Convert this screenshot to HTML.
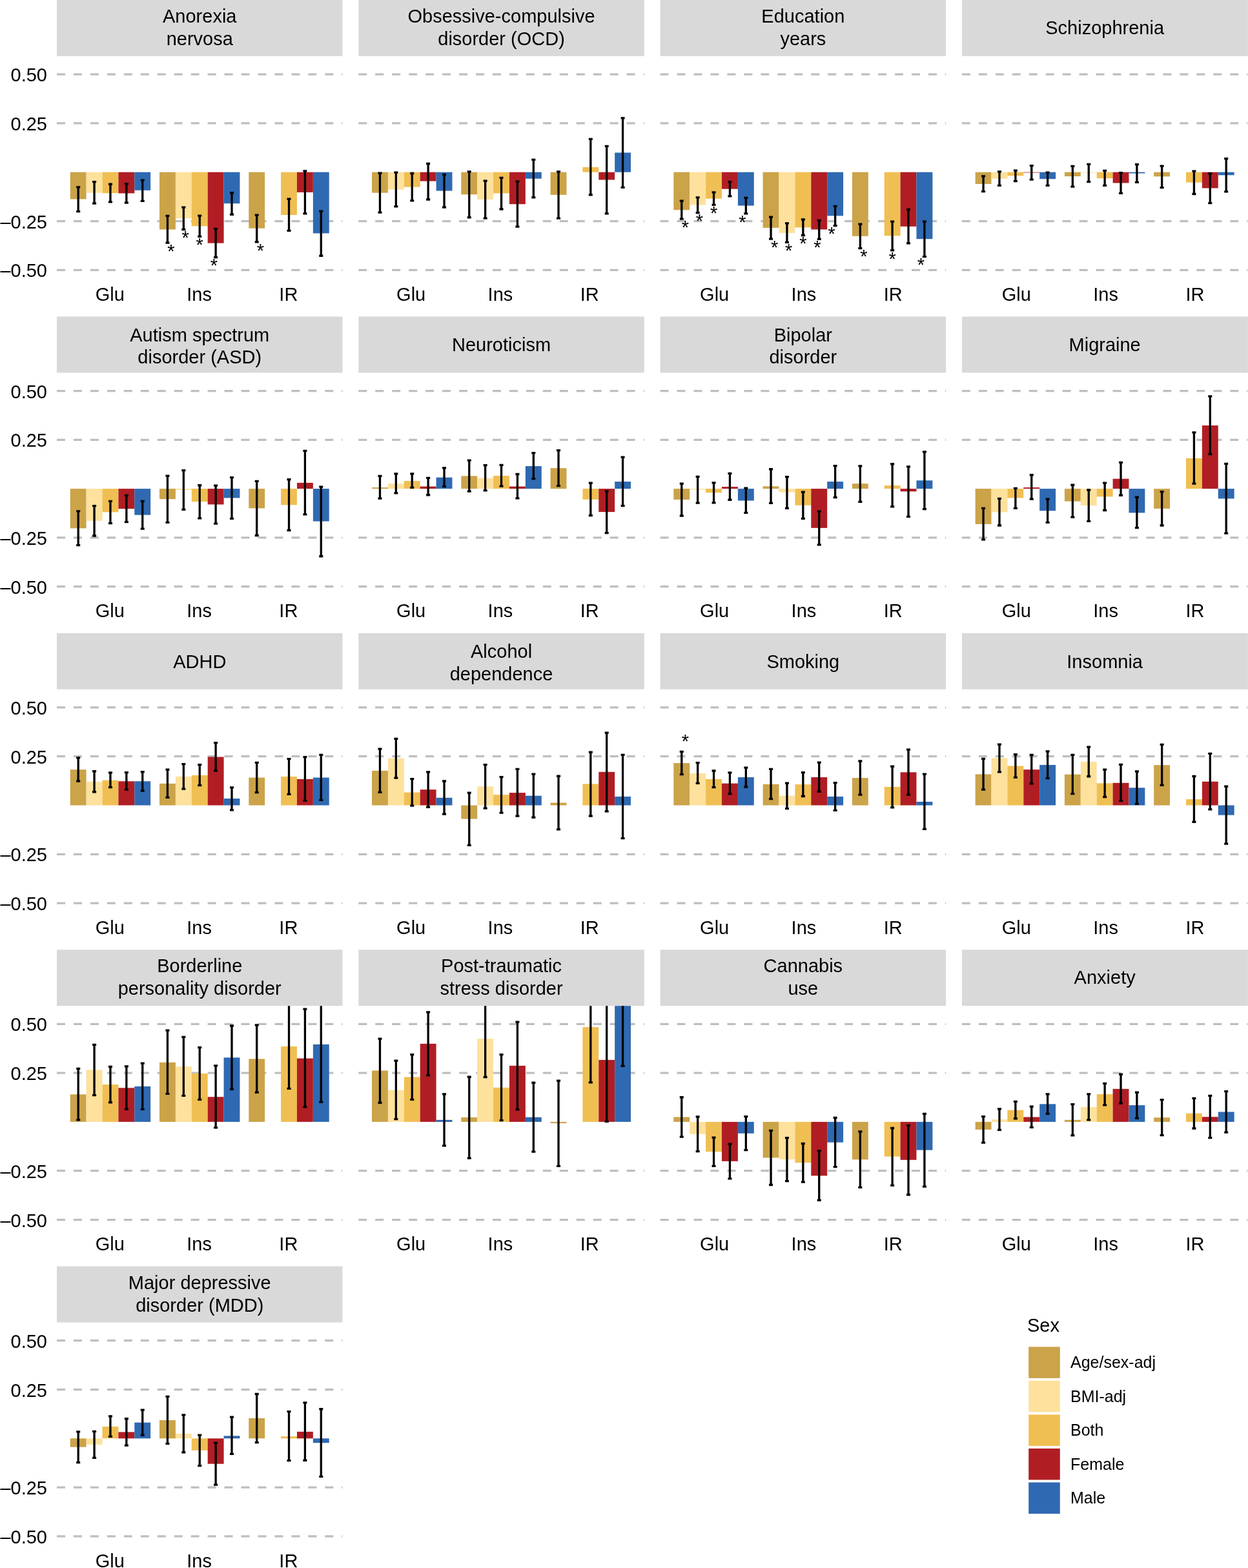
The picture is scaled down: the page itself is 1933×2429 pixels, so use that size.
<!DOCTYPE html>
<html><head><meta charset="utf-8"><title>Figure</title>
<style>html,body{margin:0;padding:0;background:#fff;}svg{display:block;}</style>
</head><body>
<svg width="1933" height="2429" viewBox="0 0 1933 2429" font-family="'Liberation Sans', Arial, Helvetica, sans-serif">
<rect width="1933" height="2429" fill="#fff"/>
<defs><clipPath id="c0"><rect x="88" y="87" width="442.5" height="360"/></clipPath><clipPath id="c1"><rect x="555.3" y="87" width="442.5" height="360"/></clipPath><clipPath id="c2"><rect x="1022.6" y="87" width="442.5" height="360"/></clipPath><clipPath id="c3"><rect x="1489.9" y="87" width="442.5" height="360"/></clipPath><clipPath id="c4"><rect x="88" y="577.4" width="442.5" height="360"/></clipPath><clipPath id="c5"><rect x="555.3" y="577.4" width="442.5" height="360"/></clipPath><clipPath id="c6"><rect x="1022.6" y="577.4" width="442.5" height="360"/></clipPath><clipPath id="c7"><rect x="1489.9" y="577.4" width="442.5" height="360"/></clipPath><clipPath id="c8"><rect x="88" y="1067.8" width="442.5" height="360"/></clipPath><clipPath id="c9"><rect x="555.3" y="1067.8" width="442.5" height="360"/></clipPath><clipPath id="c10"><rect x="1022.6" y="1067.8" width="442.5" height="360"/></clipPath><clipPath id="c11"><rect x="1489.9" y="1067.8" width="442.5" height="360"/></clipPath><clipPath id="c12"><rect x="88" y="1558.2" width="442.5" height="360"/></clipPath><clipPath id="c13"><rect x="555.3" y="1558.2" width="442.5" height="360"/></clipPath><clipPath id="c14"><rect x="1022.6" y="1558.2" width="442.5" height="360"/></clipPath><clipPath id="c15"><rect x="1489.9" y="1558.2" width="442.5" height="360"/></clipPath><clipPath id="c16"><rect x="88" y="2048.6" width="442.5" height="360"/></clipPath></defs>
<rect x="88" y="0" width="442.5" height="87" fill="#D9D9D9"/>
<text x="309.25" y="35.1" font-size="29" text-anchor="middle" fill="#000">Anorexia</text>
<text x="309.25" y="70" font-size="29" text-anchor="middle" fill="#000">nervosa</text>
<line x1="88" x2="530.5" y1="115.1" y2="115.1" stroke="#BEBEBE" stroke-width="3.25" stroke-dasharray="12.98 12.98"/>
<text transform="translate(73 126.1) scale(1 1.02)" font-size="29" text-anchor="end" fill="#000">0.50</text>
<line x1="88" x2="530.5" y1="190.9" y2="190.9" stroke="#BEBEBE" stroke-width="3.25" stroke-dasharray="12.98 12.98"/>
<text transform="translate(73 201.9) scale(1 1.02)" font-size="29" text-anchor="end" fill="#000">0.25</text>
<line x1="88" x2="530.5" y1="342.5" y2="342.5" stroke="#BEBEBE" stroke-width="3.25" stroke-dasharray="12.98 12.98"/>
<text transform="translate(73 353.5) scale(1 1.02)" font-size="29" text-anchor="end" fill="#000">–0.25</text>
<line x1="88" x2="530.5" y1="418.3" y2="418.3" stroke="#BEBEBE" stroke-width="3.25" stroke-dasharray="12.98 12.98"/>
<text transform="translate(73 429.3) scale(1 1.02)" font-size="29" text-anchor="end" fill="#000">–0.50</text>
<text x="170.27" y="466" font-size="29" text-anchor="middle" fill="#000">Glu</text>
<text x="308.55" y="466" font-size="29" text-anchor="middle" fill="#000">Ins</text>
<text x="446.83" y="466" font-size="29" text-anchor="middle" fill="#000">IR</text>
<g clip-path="url(#c0)">
<rect x="108.74" y="266.7" width="24.89" height="41.8" fill="#CBA349"/>
<rect x="133.63" y="266.7" width="24.89" height="31.99" fill="#FDE19C"/>
<rect x="158.52" y="266.7" width="24.89" height="32.51" fill="#F0BF53"/>
<rect x="183.41" y="266.7" width="24.89" height="32.76" fill="#B01E24"/>
<rect x="208.3" y="266.7" width="24.89" height="28.12" fill="#2F69B1"/>
<rect x="247.02" y="266.7" width="24.89" height="88.78" fill="#CBA349"/>
<rect x="271.91" y="266.7" width="24.89" height="71.49" fill="#FDE19C"/>
<rect x="296.8" y="266.7" width="24.89" height="83.62" fill="#F0BF53"/>
<rect x="321.7" y="266.7" width="24.89" height="109.95" fill="#B01E24"/>
<rect x="346.59" y="266.7" width="24.89" height="48.51" fill="#2F69B1"/>
<rect x="385.3" y="266.7" width="24.89" height="86.98" fill="#CBA349"/>
<rect x="435.09" y="266.7" width="24.89" height="66.33" fill="#F0BF53"/>
<rect x="459.98" y="266.7" width="24.89" height="31.22" fill="#B01E24"/>
<rect x="484.87" y="266.7" width="24.89" height="94.72" fill="#2F69B1"/>
<path d="M121.19 289.91V327.6M118.19 289.91H124.19M118.19 327.6H124.19M146.08 281.65V315.21M143.08 281.65H149.08M143.08 315.21H149.08M170.97 285.27V312.89M167.97 285.27H173.97M167.97 312.89H173.97M195.86 284.75V314.18M192.86 284.75H198.86M192.86 314.18H198.86M220.75 279.07V311.34M217.75 279.07H223.75M217.75 311.34H223.75M259.47 334.32V376.14M256.47 334.32H262.47M256.47 376.14H262.47M284.36 321.15V355.48M281.36 321.15H287.36M281.36 355.48H287.36M309.25 334.06V366.33M306.25 334.06H312.25M306.25 366.33H312.25M334.14 354.45V398.6M331.14 354.45H337.14M331.14 398.6H337.14M359.03 298.69V332.25M356.03 298.69H362.03M356.03 332.25H362.03M397.75 333.03V374.85M394.75 333.03H400.75M394.75 374.85H400.75M447.53 308.24V357.29M444.53 308.24H450.53M444.53 357.29H450.53M472.42 264.87V330.96M469.42 264.87H475.42M469.42 330.96H475.42M497.31 327.09V396.27M494.31 327.09H500.31M494.31 396.27H500.31" stroke="#000" stroke-width="3.3" fill="none"/>
</g>
<text x="265" y="398.94" font-size="29" text-anchor="middle">*</text>
<text x="287.12" y="378.28" font-size="29" text-anchor="middle">*</text>
<text x="309.25" y="389.13" font-size="29" text-anchor="middle">*</text>
<text x="331.38" y="421.4" font-size="29" text-anchor="middle">*</text>
<text x="403.28" y="397.65" font-size="29" text-anchor="middle">*</text>
<rect x="555.3" y="0" width="442.5" height="87" fill="#D9D9D9"/>
<text x="776.55" y="35.1" font-size="29" text-anchor="middle" fill="#000">Obsessive-compulsive</text>
<text x="776.55" y="70" font-size="29" text-anchor="middle" fill="#000">disorder (OCD)</text>
<line x1="555.3" x2="997.8" y1="115.1" y2="115.1" stroke="#BEBEBE" stroke-width="3.25" stroke-dasharray="12.98 12.98"/>
<line x1="555.3" x2="997.8" y1="190.9" y2="190.9" stroke="#BEBEBE" stroke-width="3.25" stroke-dasharray="12.98 12.98"/>
<line x1="555.3" x2="997.8" y1="342.5" y2="342.5" stroke="#BEBEBE" stroke-width="3.25" stroke-dasharray="12.98 12.98"/>
<line x1="555.3" x2="997.8" y1="418.3" y2="418.3" stroke="#BEBEBE" stroke-width="3.25" stroke-dasharray="12.98 12.98"/>
<text x="636.67" y="466" font-size="29" text-anchor="middle" fill="#000">Glu</text>
<text x="774.95" y="466" font-size="29" text-anchor="middle" fill="#000">Ins</text>
<text x="913.23" y="466" font-size="29" text-anchor="middle" fill="#000">IR</text>
<g clip-path="url(#c1)">
<rect x="576.04" y="266.7" width="24.89" height="31.99" fill="#CBA349"/>
<rect x="600.93" y="266.7" width="24.89" height="26.83" fill="#FDE19C"/>
<rect x="625.82" y="266.7" width="24.89" height="22.95" fill="#F0BF53"/>
<rect x="650.71" y="266.7" width="24.89" height="13.92" fill="#B01E24"/>
<rect x="675.6" y="266.7" width="24.89" height="28.89" fill="#2F69B1"/>
<rect x="714.32" y="266.7" width="24.89" height="34.57" fill="#CBA349"/>
<rect x="739.21" y="266.7" width="24.89" height="42.32" fill="#FDE19C"/>
<rect x="764.1" y="266.7" width="24.89" height="32.76" fill="#F0BF53"/>
<rect x="789" y="266.7" width="24.89" height="49.54" fill="#B01E24"/>
<rect x="813.89" y="266.7" width="24.89" height="10.05" fill="#2F69B1"/>
<rect x="852.6" y="266.7" width="24.89" height="35.09" fill="#CBA349"/>
<rect x="902.39" y="258.93" width="24.89" height="7.77" fill="#F0BF53"/>
<rect x="927.28" y="266.7" width="24.89" height="11.85" fill="#B01E24"/>
<rect x="952.17" y="236.47" width="24.89" height="30.23" fill="#2F69B1"/>
<path d="M588.49 268.23V329.15M585.49 268.23H591.49M585.49 329.15H591.49M613.38 267.19V319.86M610.38 267.19H616.38M610.38 319.86H616.38M638.27 268.49V310.82M635.27 268.49H641.27M635.27 310.82H641.27M663.16 253.51V309.02M660.16 253.51H666.16M660.16 309.02H666.16M688.05 270.29V321.15M685.05 270.29H691.05M685.05 321.15H691.05M726.77 265.9V336.9M723.77 265.9H729.77M723.77 336.9H729.77M751.66 280.1V338.19M748.66 280.1H754.66M748.66 338.19H754.66M776.55 275.46V323.99M773.55 275.46H779.55M773.55 323.99H779.55M801.44 281.14V351.1M798.44 281.14H804.44M798.44 351.1H804.44M826.33 247.32V305.92M823.33 247.32H829.33M823.33 305.92H829.33M865.05 265.9V338.19M862.05 265.9H868.05M862.05 338.19H868.05M914.83 215.3V301.79M911.83 215.3H917.83M911.83 301.79H917.83M939.72 226.41V330.96M936.72 226.41H942.72M936.72 330.96H942.72M964.61 182.78V290.43M961.61 182.78H967.61M961.61 290.43H967.61" stroke="#000" stroke-width="3.3" fill="none"/>
</g>
<rect x="1022.6" y="0" width="442.5" height="87" fill="#D9D9D9"/>
<text x="1243.85" y="35.1" font-size="29" text-anchor="middle" fill="#000">Education</text>
<text x="1243.85" y="70" font-size="29" text-anchor="middle" fill="#000">years</text>
<line x1="1022.6" x2="1465.1" y1="115.1" y2="115.1" stroke="#BEBEBE" stroke-width="3.25" stroke-dasharray="12.98 12.98"/>
<line x1="1022.6" x2="1465.1" y1="190.9" y2="190.9" stroke="#BEBEBE" stroke-width="3.25" stroke-dasharray="12.98 12.98"/>
<line x1="1022.6" x2="1465.1" y1="342.5" y2="342.5" stroke="#BEBEBE" stroke-width="3.25" stroke-dasharray="12.98 12.98"/>
<line x1="1022.6" x2="1465.1" y1="418.3" y2="418.3" stroke="#BEBEBE" stroke-width="3.25" stroke-dasharray="12.98 12.98"/>
<text x="1106.67" y="466" font-size="29" text-anchor="middle" fill="#000">Glu</text>
<text x="1244.95" y="466" font-size="29" text-anchor="middle" fill="#000">Ins</text>
<text x="1383.23" y="466" font-size="29" text-anchor="middle" fill="#000">IR</text>
<g clip-path="url(#c2)">
<rect x="1043.34" y="266.7" width="24.89" height="58.58" fill="#CBA349"/>
<rect x="1068.23" y="266.7" width="24.89" height="50.84" fill="#FDE19C"/>
<rect x="1093.12" y="266.7" width="24.89" height="41.03" fill="#F0BF53"/>
<rect x="1118.01" y="266.7" width="24.89" height="26.05" fill="#B01E24"/>
<rect x="1142.9" y="266.7" width="24.89" height="51.87" fill="#2F69B1"/>
<rect x="1181.62" y="266.7" width="24.89" height="86.2" fill="#CBA349"/>
<rect x="1206.51" y="266.7" width="24.89" height="94.21" fill="#FDE19C"/>
<rect x="1231.4" y="266.7" width="24.89" height="85.69" fill="#F0BF53"/>
<rect x="1256.3" y="266.7" width="24.89" height="88.78" fill="#B01E24"/>
<rect x="1281.19" y="266.7" width="24.89" height="67.62" fill="#2F69B1"/>
<rect x="1319.9" y="266.7" width="24.89" height="99.11" fill="#CBA349"/>
<rect x="1369.69" y="266.7" width="24.89" height="98.59" fill="#F0BF53"/>
<rect x="1394.58" y="266.7" width="24.89" height="84.14" fill="#B01E24"/>
<rect x="1419.47" y="266.7" width="24.89" height="103.5" fill="#2F69B1"/>
<path d="M1055.79 311.08V339.22M1052.79 311.08H1058.79M1052.79 339.22H1058.79M1080.68 305.92V329.67M1077.68 305.92H1083.68M1077.68 329.67H1083.68M1105.57 297.92V317.28M1102.57 297.92H1108.57M1102.57 317.28H1108.57M1130.46 281.65V303.85M1127.46 281.65H1133.46M1127.46 303.85H1133.46M1155.35 306.43V330.96M1152.35 306.43H1158.35M1152.35 330.96H1158.35M1194.07 336.12V370.2M1191.07 336.12H1197.07M1191.07 370.2H1197.07M1218.96 345.93V375.36M1215.96 345.93H1221.96M1215.96 375.36H1221.96M1243.85 340V364.52M1240.85 340H1246.85M1240.85 364.52H1246.85M1268.74 341.29V370.46M1265.74 341.29H1271.74M1265.74 370.46H1271.74M1293.63 319.34V349.55M1290.63 319.34H1296.63M1290.63 349.55H1296.63M1332.35 347.22V384.66M1329.35 347.22H1335.35M1329.35 384.66H1335.35M1382.13 343.09V387.75M1379.13 343.09H1385.13M1379.13 387.75H1385.13M1407.02 324.51V376.91M1404.02 324.51H1410.02M1404.02 376.91H1410.02M1431.91 343.09V397.56M1428.91 343.09H1434.91M1428.91 397.56H1434.91" stroke="#000" stroke-width="3.3" fill="none"/>
</g>
<text x="1061.32" y="362.02" font-size="29" text-anchor="middle">*</text>
<text x="1083.44" y="352.47" font-size="29" text-anchor="middle">*</text>
<text x="1105.57" y="340.08" font-size="29" text-anchor="middle">*</text>
<text x="1149.82" y="353.76" font-size="29" text-anchor="middle">*</text>
<text x="1199.6" y="393" font-size="29" text-anchor="middle">*</text>
<text x="1221.72" y="398.16" font-size="29" text-anchor="middle">*</text>
<text x="1243.85" y="387.32" font-size="29" text-anchor="middle">*</text>
<text x="1265.97" y="393.26" font-size="29" text-anchor="middle">*</text>
<text x="1288.1" y="372.35" font-size="29" text-anchor="middle">*</text>
<text x="1337.88" y="407.46" font-size="29" text-anchor="middle">*</text>
<text x="1382.13" y="410.55" font-size="29" text-anchor="middle">*</text>
<text x="1426.38" y="420.36" font-size="29" text-anchor="middle">*</text>
<rect x="1489.9" y="0" width="442.9" height="87" fill="#D9D9D9"/>
<text x="1711.15" y="52.8" font-size="29" text-anchor="middle" fill="#000">Schizophrenia</text>
<line x1="1489.9" x2="1932.4" y1="115.1" y2="115.1" stroke="#BEBEBE" stroke-width="3.25" stroke-dasharray="12.98 12.98"/>
<line x1="1489.9" x2="1932.4" y1="190.9" y2="190.9" stroke="#BEBEBE" stroke-width="3.25" stroke-dasharray="12.98 12.98"/>
<line x1="1489.9" x2="1932.4" y1="342.5" y2="342.5" stroke="#BEBEBE" stroke-width="3.25" stroke-dasharray="12.98 12.98"/>
<line x1="1489.9" x2="1932.4" y1="418.3" y2="418.3" stroke="#BEBEBE" stroke-width="3.25" stroke-dasharray="12.98 12.98"/>
<text x="1574.37" y="466" font-size="29" text-anchor="middle" fill="#000">Glu</text>
<text x="1712.65" y="466" font-size="29" text-anchor="middle" fill="#000">Ins</text>
<text x="1850.93" y="466" font-size="29" text-anchor="middle" fill="#000">IR</text>
<g clip-path="url(#c3)">
<rect x="1510.64" y="266.7" width="24.89" height="18.31" fill="#CBA349"/>
<rect x="1535.53" y="266.7" width="24.89" height="10.05" fill="#FDE19C"/>
<rect x="1560.42" y="266.7" width="24.89" height="5.66" fill="#F0BF53"/>
<rect x="1585.31" y="266.7" width="24.89" height="0.75" fill="#B01E24"/>
<rect x="1610.2" y="266.7" width="24.89" height="10.56" fill="#2F69B1"/>
<rect x="1648.92" y="266.7" width="24.89" height="6.43" fill="#CBA349"/>
<rect x="1673.81" y="266.7" width="24.89" height="1.01" fill="#FDE19C"/>
<rect x="1698.7" y="266.7" width="24.89" height="9.53" fill="#F0BF53"/>
<rect x="1723.6" y="266.7" width="24.89" height="16.76" fill="#B01E24"/>
<rect x="1748.49" y="266.7" width="24.89" height="1.79" fill="#2F69B1"/>
<rect x="1787.2" y="266.7" width="24.89" height="6.69" fill="#CBA349"/>
<rect x="1836.99" y="266.7" width="24.89" height="15.98" fill="#F0BF53"/>
<rect x="1861.88" y="266.7" width="24.89" height="24.76" fill="#B01E24"/>
<rect x="1886.77" y="266.7" width="24.89" height="4.63" fill="#2F69B1"/>
<path d="M1523.09 272.87V296.62M1520.09 272.87H1526.09M1520.09 296.62H1526.09M1547.98 265.9V287.33M1544.98 265.9H1550.98M1544.98 287.33H1550.98M1572.87 264.1V280.62M1569.87 264.1H1575.87M1569.87 280.62H1575.87M1597.76 256.61V278.04M1594.76 256.61H1600.76M1594.76 278.04H1600.76M1622.65 267.19V287.33M1619.65 267.19H1625.65M1619.65 287.33H1625.65M1661.37 257.38V289.14M1658.37 257.38H1664.37M1658.37 289.14H1664.37M1686.26 254.29V281.65M1683.26 254.29H1689.26M1683.26 281.65H1689.26M1711.15 264.35V287.33M1708.15 264.35H1714.15M1708.15 287.33H1714.15M1736.04 267.71V299.46M1733.04 267.71H1739.04M1733.04 299.46H1739.04M1760.93 254.54V282.43M1757.93 254.54H1763.93M1757.93 282.43H1763.93M1799.65 257.13V290.69M1796.65 257.13H1802.65M1796.65 290.69H1802.65M1849.43 265.13V300.5M1846.43 265.13H1852.43M1846.43 300.5H1852.43M1874.32 268.74V314.7M1871.32 268.74H1877.32M1871.32 314.7H1877.32M1899.21 245.77V296.88M1896.21 245.77H1902.21M1896.21 296.88H1902.21" stroke="#000" stroke-width="3.3" fill="none"/>
</g>
<rect x="88" y="490.4" width="442.5" height="87" fill="#D9D9D9"/>
<text x="309.25" y="528.6" font-size="29" text-anchor="middle" fill="#000">Autism spectrum</text>
<text x="309.25" y="563.2" font-size="29" text-anchor="middle" fill="#000">disorder (ASD)</text>
<line x1="88" x2="530.5" y1="605.5" y2="605.5" stroke="#BEBEBE" stroke-width="3.25" stroke-dasharray="12.98 12.98"/>
<text transform="translate(73 616.5) scale(1 1.02)" font-size="29" text-anchor="end" fill="#000">0.50</text>
<line x1="88" x2="530.5" y1="681.3" y2="681.3" stroke="#BEBEBE" stroke-width="3.25" stroke-dasharray="12.98 12.98"/>
<text transform="translate(73 692.3) scale(1 1.02)" font-size="29" text-anchor="end" fill="#000">0.25</text>
<line x1="88" x2="530.5" y1="832.9" y2="832.9" stroke="#BEBEBE" stroke-width="3.25" stroke-dasharray="12.98 12.98"/>
<text transform="translate(73 843.9) scale(1 1.02)" font-size="29" text-anchor="end" fill="#000">–0.25</text>
<line x1="88" x2="530.5" y1="908.7" y2="908.7" stroke="#BEBEBE" stroke-width="3.25" stroke-dasharray="12.98 12.98"/>
<text transform="translate(73 919.7) scale(1 1.02)" font-size="29" text-anchor="end" fill="#000">–0.50</text>
<text x="170.27" y="956.4" font-size="29" text-anchor="middle" fill="#000">Glu</text>
<text x="308.55" y="956.4" font-size="29" text-anchor="middle" fill="#000">Ins</text>
<text x="446.83" y="956.4" font-size="29" text-anchor="middle" fill="#000">IR</text>
<g clip-path="url(#c4)">
<rect x="108.74" y="757.1" width="24.89" height="61.28" fill="#CBA349"/>
<rect x="133.63" y="757.1" width="24.89" height="49.66" fill="#FDE19C"/>
<rect x="158.52" y="757.1" width="24.89" height="36.24" fill="#F0BF53"/>
<rect x="183.41" y="757.1" width="24.89" height="31.07" fill="#B01E24"/>
<rect x="208.3" y="757.1" width="24.89" height="40.63" fill="#2F69B1"/>
<rect x="247.02" y="757.1" width="24.89" height="16.1" fill="#CBA349"/>
<rect x="271.91" y="757.1" width="24.89" height="1.9" fill="#FDE19C"/>
<rect x="296.8" y="757.1" width="24.89" height="19.97" fill="#F0BF53"/>
<rect x="321.7" y="757.1" width="24.89" height="24.36" fill="#B01E24"/>
<rect x="346.59" y="757.1" width="24.89" height="14.29" fill="#2F69B1"/>
<rect x="385.3" y="757.1" width="24.89" height="30.3" fill="#CBA349"/>
<rect x="435.09" y="757.1" width="24.89" height="25.14" fill="#F0BF53"/>
<rect x="459.98" y="747.9" width="24.89" height="9.2" fill="#B01E24"/>
<rect x="484.87" y="757.1" width="24.89" height="50.44" fill="#2F69B1"/>
<path d="M121.19 791.79V844.71M118.19 791.79H124.19M118.19 844.71H124.19M146.08 783.53V830M143.08 783.53H149.08M143.08 830H149.08M170.97 776.3V810.63M167.97 776.3H173.97M167.97 810.63H173.97M195.86 767.52V808.57M192.86 767.52H198.86M192.86 808.57H198.86M220.75 776.3V819.15M217.75 776.3H223.75M217.75 819.15H223.75M259.47 737.06V809.34M256.47 737.06H262.47M256.47 809.34H262.47M284.36 728.54V789.46M281.36 728.54H287.36M281.36 789.46H287.36M309.25 751.77V802.89M306.25 751.77H312.25M306.25 802.89H312.25M334.14 752.03V811.15M331.14 752.03H337.14M331.14 811.15H337.14M359.03 739.64V803.41M356.03 739.64H362.03M356.03 803.41H362.03M397.75 745.32V829.48M394.75 745.32H400.75M394.75 829.48H400.75M447.53 742.74V821.48M444.53 742.74H450.53M444.53 821.48H450.53M472.42 698.33V796.95M469.42 698.33H475.42M469.42 796.95H475.42M497.31 754.1V861.75M494.31 754.1H500.31M494.31 861.75H500.31" stroke="#000" stroke-width="3.3" fill="none"/>
</g>
<rect x="555.3" y="490.4" width="442.5" height="87" fill="#D9D9D9"/>
<text x="776.55" y="544.4" font-size="29" text-anchor="middle" fill="#000">Neuroticism</text>
<line x1="555.3" x2="997.8" y1="605.5" y2="605.5" stroke="#BEBEBE" stroke-width="3.25" stroke-dasharray="12.98 12.98"/>
<line x1="555.3" x2="997.8" y1="681.3" y2="681.3" stroke="#BEBEBE" stroke-width="3.25" stroke-dasharray="12.98 12.98"/>
<line x1="555.3" x2="997.8" y1="832.9" y2="832.9" stroke="#BEBEBE" stroke-width="3.25" stroke-dasharray="12.98 12.98"/>
<line x1="555.3" x2="997.8" y1="908.7" y2="908.7" stroke="#BEBEBE" stroke-width="3.25" stroke-dasharray="12.98 12.98"/>
<text x="636.67" y="956.4" font-size="29" text-anchor="middle" fill="#000">Glu</text>
<text x="774.95" y="956.4" font-size="29" text-anchor="middle" fill="#000">Ins</text>
<text x="913.23" y="956.4" font-size="29" text-anchor="middle" fill="#000">IR</text>
<g clip-path="url(#c5)">
<rect x="576.04" y="755.13" width="24.89" height="1.97" fill="#CBA349"/>
<rect x="600.93" y="749.19" width="24.89" height="7.91" fill="#FDE19C"/>
<rect x="625.82" y="745.06" width="24.89" height="12.04" fill="#F0BF53"/>
<rect x="650.71" y="753.58" width="24.89" height="3.52" fill="#B01E24"/>
<rect x="675.6" y="739.64" width="24.89" height="17.46" fill="#2F69B1"/>
<rect x="714.32" y="737.32" width="24.89" height="19.78" fill="#CBA349"/>
<rect x="739.21" y="740.67" width="24.89" height="16.43" fill="#FDE19C"/>
<rect x="764.1" y="737.06" width="24.89" height="20.04" fill="#F0BF53"/>
<rect x="789" y="753.58" width="24.89" height="3.52" fill="#B01E24"/>
<rect x="813.89" y="722.09" width="24.89" height="35.01" fill="#2F69B1"/>
<rect x="852.6" y="725.18" width="24.89" height="31.92" fill="#CBA349"/>
<rect x="902.39" y="757.1" width="24.89" height="16.62" fill="#F0BF53"/>
<rect x="927.28" y="757.1" width="24.89" height="35.98" fill="#B01E24"/>
<rect x="952.17" y="746.09" width="24.89" height="11.01" fill="#2F69B1"/>
<path d="M588.49 737.32V772.17M585.49 737.32H591.49M585.49 772.17H591.49M613.38 733.96V763.91M610.38 733.96H616.38M610.38 763.91H616.38M638.27 733.96V755.39M635.27 733.96H641.27M635.27 755.39H641.27M663.16 740.41V766.75M660.16 740.41H666.16M660.16 766.75H666.16M688.05 724.92V753.58M685.05 724.92H691.05M685.05 753.58H691.05M726.77 713.05V761.07M723.77 713.05H729.77M723.77 761.07H729.77M751.66 720.54V759.78M748.66 720.54H754.66M748.66 759.78H754.66M776.55 720.28V753.06M773.55 720.28H779.55M773.55 753.06H779.55M801.44 734.48V771.91M798.44 734.48H804.44M798.44 771.91H804.44M826.33 701.69V741.71M823.33 701.69H829.33M823.33 741.71H829.33M865.05 697.56V752.55M862.05 697.56H868.05M862.05 752.55H868.05M914.83 748.16V798.5M911.83 748.16H917.83M911.83 798.5H917.83M939.72 760.81V825.61M936.72 760.81H942.72M936.72 825.61H942.72M964.61 708.14V783.53M961.61 708.14H967.61M961.61 783.53H967.61" stroke="#000" stroke-width="3.3" fill="none"/>
</g>
<rect x="1022.6" y="490.4" width="442.5" height="87" fill="#D9D9D9"/>
<text x="1243.85" y="528.6" font-size="29" text-anchor="middle" fill="#000">Bipolar</text>
<text x="1243.85" y="563.2" font-size="29" text-anchor="middle" fill="#000">disorder</text>
<line x1="1022.6" x2="1465.1" y1="605.5" y2="605.5" stroke="#BEBEBE" stroke-width="3.25" stroke-dasharray="12.98 12.98"/>
<line x1="1022.6" x2="1465.1" y1="681.3" y2="681.3" stroke="#BEBEBE" stroke-width="3.25" stroke-dasharray="12.98 12.98"/>
<line x1="1022.6" x2="1465.1" y1="832.9" y2="832.9" stroke="#BEBEBE" stroke-width="3.25" stroke-dasharray="12.98 12.98"/>
<line x1="1022.6" x2="1465.1" y1="908.7" y2="908.7" stroke="#BEBEBE" stroke-width="3.25" stroke-dasharray="12.98 12.98"/>
<text x="1106.67" y="956.4" font-size="29" text-anchor="middle" fill="#000">Glu</text>
<text x="1244.95" y="956.4" font-size="29" text-anchor="middle" fill="#000">Ins</text>
<text x="1383.23" y="956.4" font-size="29" text-anchor="middle" fill="#000">IR</text>
<g clip-path="url(#c6)">
<rect x="1043.34" y="757.1" width="24.89" height="16.87" fill="#CBA349"/>
<rect x="1068.23" y="757.1" width="24.89" height="1.39" fill="#FDE19C"/>
<rect x="1093.12" y="757.1" width="24.89" height="6.03" fill="#F0BF53"/>
<rect x="1118.01" y="754.1" width="24.89" height="3" fill="#B01E24"/>
<rect x="1142.9" y="757.1" width="24.89" height="18.42" fill="#2F69B1"/>
<rect x="1181.62" y="753.32" width="24.89" height="3.78" fill="#CBA349"/>
<rect x="1206.51" y="757.1" width="24.89" height="5.52" fill="#FDE19C"/>
<rect x="1231.4" y="757.1" width="24.89" height="25.65" fill="#F0BF53"/>
<rect x="1256.3" y="757.1" width="24.89" height="60.76" fill="#B01E24"/>
<rect x="1281.19" y="746.09" width="24.89" height="11.01" fill="#2F69B1"/>
<rect x="1319.9" y="749.19" width="24.89" height="7.91" fill="#CBA349"/>
<rect x="1369.69" y="752.03" width="24.89" height="5.07" fill="#F0BF53"/>
<rect x="1394.58" y="757.1" width="24.89" height="4.23" fill="#B01E24"/>
<rect x="1419.47" y="744.29" width="24.89" height="12.81" fill="#2F69B1"/>
<path d="M1055.79 749.19V799.02M1052.79 749.19H1058.79M1052.79 799.02H1058.79M1080.68 738.35V779.14M1077.68 738.35H1083.68M1077.68 779.14H1083.68M1105.57 747.9V778.88M1102.57 747.9H1108.57M1102.57 778.88H1108.57M1130.46 733.44V774.23M1127.46 733.44H1133.46M1127.46 774.23H1133.46M1155.35 756.16V794.37M1152.35 756.16H1158.35M1152.35 794.37H1158.35M1194.07 726.73V779.4M1191.07 726.73H1197.07M1191.07 779.4H1197.07M1218.96 738.61V787.4M1215.96 738.61H1221.96M1215.96 787.4H1221.96M1243.85 762.1V803.41M1240.85 762.1H1246.85M1240.85 803.41H1246.85M1268.74 792.05V843.94M1265.74 792.05H1271.74M1265.74 843.94H1271.74M1293.63 721.57V770.62M1290.63 721.57H1296.63M1290.63 770.62H1296.63M1332.35 721.83V777.33M1329.35 721.83H1335.35M1329.35 777.33H1335.35M1382.13 718.73V784.82M1379.13 718.73H1385.13M1379.13 784.82H1385.13M1407.02 722.86V800.31M1404.02 722.86H1410.02M1404.02 800.31H1410.02M1431.91 699.88V788.69M1428.91 699.88H1434.91M1428.91 788.69H1434.91" stroke="#000" stroke-width="3.3" fill="none"/>
</g>
<rect x="1489.9" y="490.4" width="442.9" height="87" fill="#D9D9D9"/>
<text x="1711.15" y="544.4" font-size="29" text-anchor="middle" fill="#000">Migraine</text>
<line x1="1489.9" x2="1932.4" y1="605.5" y2="605.5" stroke="#BEBEBE" stroke-width="3.25" stroke-dasharray="12.98 12.98"/>
<line x1="1489.9" x2="1932.4" y1="681.3" y2="681.3" stroke="#BEBEBE" stroke-width="3.25" stroke-dasharray="12.98 12.98"/>
<line x1="1489.9" x2="1932.4" y1="832.9" y2="832.9" stroke="#BEBEBE" stroke-width="3.25" stroke-dasharray="12.98 12.98"/>
<line x1="1489.9" x2="1932.4" y1="908.7" y2="908.7" stroke="#BEBEBE" stroke-width="3.25" stroke-dasharray="12.98 12.98"/>
<text x="1574.37" y="956.4" font-size="29" text-anchor="middle" fill="#000">Glu</text>
<text x="1712.65" y="956.4" font-size="29" text-anchor="middle" fill="#000">Ins</text>
<text x="1850.93" y="956.4" font-size="29" text-anchor="middle" fill="#000">IR</text>
<g clip-path="url(#c7)">
<rect x="1510.64" y="757.1" width="24.89" height="54.82" fill="#CBA349"/>
<rect x="1535.53" y="757.1" width="24.89" height="36.24" fill="#FDE19C"/>
<rect x="1560.42" y="757.1" width="24.89" height="14.29" fill="#F0BF53"/>
<rect x="1585.31" y="755.13" width="24.89" height="1.97" fill="#B01E24"/>
<rect x="1610.2" y="757.1" width="24.89" height="34.17" fill="#2F69B1"/>
<rect x="1648.92" y="757.1" width="24.89" height="19.46" fill="#CBA349"/>
<rect x="1673.81" y="757.1" width="24.89" height="25.91" fill="#FDE19C"/>
<rect x="1698.7" y="757.1" width="24.89" height="12.23" fill="#F0BF53"/>
<rect x="1723.6" y="741.71" width="24.89" height="15.39" fill="#B01E24"/>
<rect x="1748.49" y="757.1" width="24.89" height="37.27" fill="#2F69B1"/>
<rect x="1787.2" y="757.1" width="24.89" height="30.82" fill="#CBA349"/>
<rect x="1836.99" y="709.95" width="24.89" height="47.15" fill="#F0BF53"/>
<rect x="1861.88" y="659.09" width="24.89" height="98.01" fill="#B01E24"/>
<rect x="1886.77" y="757.1" width="24.89" height="15.33" fill="#2F69B1"/>
<path d="M1523.09 787.4V835.93M1520.09 787.4H1526.09M1520.09 835.93H1526.09M1547.98 772.43V813.99M1544.98 772.43H1550.98M1544.98 813.99H1550.98M1572.87 756.42V787.4M1569.87 756.42H1575.87M1569.87 787.4H1575.87M1597.76 735.77V773.2M1594.76 735.77H1600.76M1594.76 773.2H1600.76M1622.65 773.2V809.34M1619.65 773.2H1625.65M1619.65 809.34H1625.65M1661.37 751.26V801.08M1658.37 751.26H1664.37M1658.37 801.08H1664.37M1686.26 759V807.28M1683.26 759H1689.26M1683.26 807.28H1689.26M1711.15 748.16V790.5M1708.15 748.16H1714.15M1708.15 790.5H1714.15M1736.04 716.41V767.26M1733.04 716.41H1739.04M1733.04 767.26H1739.04M1760.93 770.1V817.6M1757.93 770.1H1763.93M1757.93 817.6H1763.93M1799.65 761.58V813.99M1796.65 761.58H1802.65M1796.65 813.99H1802.65M1849.43 669.94V749.19M1846.43 669.94H1852.43M1846.43 749.19H1852.43M1874.32 613.92V703.5M1871.32 613.92H1877.32M1871.32 703.5H1877.32M1899.21 718.47V826.12M1896.21 718.47H1902.21M1896.21 826.12H1902.21" stroke="#000" stroke-width="3.3" fill="none"/>
</g>
<rect x="88" y="980.8" width="442.5" height="87" fill="#D9D9D9"/>
<text x="309.25" y="1034.8" font-size="29" text-anchor="middle" fill="#000">ADHD</text>
<line x1="88" x2="530.5" y1="1095.9" y2="1095.9" stroke="#BEBEBE" stroke-width="3.25" stroke-dasharray="12.98 12.98"/>
<text transform="translate(73 1106.9) scale(1 1.02)" font-size="29" text-anchor="end" fill="#000">0.50</text>
<line x1="88" x2="530.5" y1="1171.7" y2="1171.7" stroke="#BEBEBE" stroke-width="3.25" stroke-dasharray="12.98 12.98"/>
<text transform="translate(73 1182.7) scale(1 1.02)" font-size="29" text-anchor="end" fill="#000">0.25</text>
<line x1="88" x2="530.5" y1="1323.3" y2="1323.3" stroke="#BEBEBE" stroke-width="3.25" stroke-dasharray="12.98 12.98"/>
<text transform="translate(73 1334.3) scale(1 1.02)" font-size="29" text-anchor="end" fill="#000">–0.25</text>
<line x1="88" x2="530.5" y1="1399.1" y2="1399.1" stroke="#BEBEBE" stroke-width="3.25" stroke-dasharray="12.98 12.98"/>
<text transform="translate(73 1410.1) scale(1 1.02)" font-size="29" text-anchor="end" fill="#000">–0.50</text>
<text x="170.27" y="1446.8" font-size="29" text-anchor="middle" fill="#000">Glu</text>
<text x="308.55" y="1446.8" font-size="29" text-anchor="middle" fill="#000">Ins</text>
<text x="446.83" y="1446.8" font-size="29" text-anchor="middle" fill="#000">IR</text>
<g clip-path="url(#c8)">
<rect x="108.74" y="1192.17" width="24.89" height="55.33" fill="#CBA349"/>
<rect x="133.63" y="1211.02" width="24.89" height="36.48" fill="#FDE19C"/>
<rect x="158.52" y="1208.7" width="24.89" height="38.8" fill="#F0BF53"/>
<rect x="183.41" y="1210.25" width="24.89" height="37.25" fill="#B01E24"/>
<rect x="208.3" y="1210.25" width="24.89" height="37.25" fill="#2F69B1"/>
<rect x="247.02" y="1213.86" width="24.89" height="33.64" fill="#CBA349"/>
<rect x="271.91" y="1203.02" width="24.89" height="44.48" fill="#FDE19C"/>
<rect x="296.8" y="1200.95" width="24.89" height="46.55" fill="#F0BF53"/>
<rect x="321.7" y="1172.55" width="24.89" height="74.95" fill="#B01E24"/>
<rect x="346.59" y="1237.09" width="24.89" height="10.41" fill="#2F69B1"/>
<rect x="385.3" y="1204.57" width="24.89" height="42.93" fill="#CBA349"/>
<rect x="435.09" y="1203.02" width="24.89" height="44.48" fill="#F0BF53"/>
<rect x="459.98" y="1206.89" width="24.89" height="40.61" fill="#B01E24"/>
<rect x="484.87" y="1204.57" width="24.89" height="42.93" fill="#2F69B1"/>
<path d="M121.19 1173.84V1209.99M118.19 1173.84H124.19M118.19 1209.99H124.19M146.08 1194.76V1226.77M143.08 1194.76H149.08M143.08 1226.77H149.08M170.97 1196.82V1219.54M167.97 1196.82H173.97M167.97 1219.54H173.97M195.86 1196.56V1223.15M192.86 1196.56H198.86M192.86 1223.15H198.86M220.75 1195.53V1225.22M217.75 1195.53H223.75M217.75 1225.22H223.75M259.47 1192.17V1235.29M256.47 1192.17H262.47M256.47 1235.29H262.47M284.36 1183.66V1222.12M281.36 1183.66H287.36M281.36 1222.12H287.36M309.25 1184.69V1216.7M306.25 1184.69H312.25M306.25 1216.7H312.25M334.14 1150.61V1193.98M331.14 1150.61H337.14M331.14 1193.98H337.14M359.03 1219.8V1254.91M356.03 1219.8H362.03M356.03 1254.91H362.03M397.75 1181.33V1227.54M394.75 1181.33H400.75M394.75 1227.54H400.75M447.53 1175.65V1230.38M444.53 1175.65H450.53M444.53 1230.38H450.53M472.42 1172.55V1240.45M469.42 1172.55H475.42M469.42 1240.45H475.42M497.31 1169.46V1239.42M494.31 1169.46H500.31M494.31 1239.42H500.31" stroke="#000" stroke-width="3.3" fill="none"/>
</g>
<rect x="555.3" y="980.8" width="442.5" height="87" fill="#D9D9D9"/>
<text x="776.55" y="1019" font-size="29" text-anchor="middle" fill="#000">Alcohol</text>
<text x="776.55" y="1053.6" font-size="29" text-anchor="middle" fill="#000">dependence</text>
<line x1="555.3" x2="997.8" y1="1095.9" y2="1095.9" stroke="#BEBEBE" stroke-width="3.25" stroke-dasharray="12.98 12.98"/>
<line x1="555.3" x2="997.8" y1="1171.7" y2="1171.7" stroke="#BEBEBE" stroke-width="3.25" stroke-dasharray="12.98 12.98"/>
<line x1="555.3" x2="997.8" y1="1323.3" y2="1323.3" stroke="#BEBEBE" stroke-width="3.25" stroke-dasharray="12.98 12.98"/>
<line x1="555.3" x2="997.8" y1="1399.1" y2="1399.1" stroke="#BEBEBE" stroke-width="3.25" stroke-dasharray="12.98 12.98"/>
<text x="636.67" y="1446.8" font-size="29" text-anchor="middle" fill="#000">Glu</text>
<text x="774.95" y="1446.8" font-size="29" text-anchor="middle" fill="#000">Ins</text>
<text x="913.23" y="1446.8" font-size="29" text-anchor="middle" fill="#000">IR</text>
<g clip-path="url(#c9)">
<rect x="576.04" y="1193.98" width="24.89" height="53.52" fill="#CBA349"/>
<rect x="600.93" y="1174.62" width="24.89" height="72.88" fill="#FDE19C"/>
<rect x="625.82" y="1227.54" width="24.89" height="19.96" fill="#F0BF53"/>
<rect x="650.71" y="1223.15" width="24.89" height="24.35" fill="#B01E24"/>
<rect x="675.6" y="1235.8" width="24.89" height="11.7" fill="#2F69B1"/>
<rect x="714.32" y="1247.5" width="24.89" height="21.09" fill="#CBA349"/>
<rect x="739.21" y="1218.25" width="24.89" height="29.25" fill="#FDE19C"/>
<rect x="764.1" y="1231.16" width="24.89" height="16.34" fill="#F0BF53"/>
<rect x="789" y="1228.06" width="24.89" height="19.44" fill="#B01E24"/>
<rect x="813.89" y="1232.71" width="24.89" height="14.79" fill="#2F69B1"/>
<rect x="852.6" y="1243.55" width="24.89" height="3.95" fill="#CBA349"/>
<rect x="902.39" y="1214.38" width="24.89" height="33.12" fill="#F0BF53"/>
<rect x="927.28" y="1195.79" width="24.89" height="51.71" fill="#B01E24"/>
<rect x="952.17" y="1234" width="24.89" height="13.5" fill="#2F69B1"/>
<path d="M588.49 1160.16V1227.28M585.49 1160.16H591.49M585.49 1227.28H591.49M613.38 1144.41V1205.08M610.38 1144.41H616.38M610.38 1205.08H616.38M638.27 1206.63V1248.19M635.27 1206.63H641.27M635.27 1248.19H641.27M663.16 1195.79V1250.26M660.16 1195.79H666.16M660.16 1250.26H666.16M688.05 1209.99V1261.1M685.05 1209.99H691.05M685.05 1261.1H691.05M726.77 1228.06V1309.38M723.77 1228.06H729.77M723.77 1309.38H729.77M751.66 1184.69V1252.07M748.66 1184.69H754.66M748.66 1252.07H754.66M776.55 1203.53V1259.04M773.55 1203.53H779.55M773.55 1259.04H779.55M801.44 1191.4V1264.2M798.44 1191.4H804.44M798.44 1264.2H804.44M826.33 1199.14V1266.27M823.33 1199.14H829.33M823.33 1266.27H829.33M865.05 1202.24V1284.85M862.05 1202.24H868.05M862.05 1284.85H868.05M914.83 1165.07V1264.2M911.83 1165.07H917.83M911.83 1264.2H917.83M939.72 1135.12V1256.97M936.72 1135.12H942.72M936.72 1256.97H942.72M964.61 1169.46V1298.54M961.61 1169.46H967.61M961.61 1298.54H967.61" stroke="#000" stroke-width="3.3" fill="none"/>
</g>
<rect x="1022.6" y="980.8" width="442.5" height="87" fill="#D9D9D9"/>
<text x="1243.85" y="1034.8" font-size="29" text-anchor="middle" fill="#000">Smoking</text>
<line x1="1022.6" x2="1465.1" y1="1095.9" y2="1095.9" stroke="#BEBEBE" stroke-width="3.25" stroke-dasharray="12.98 12.98"/>
<line x1="1022.6" x2="1465.1" y1="1171.7" y2="1171.7" stroke="#BEBEBE" stroke-width="3.25" stroke-dasharray="12.98 12.98"/>
<line x1="1022.6" x2="1465.1" y1="1323.3" y2="1323.3" stroke="#BEBEBE" stroke-width="3.25" stroke-dasharray="12.98 12.98"/>
<line x1="1022.6" x2="1465.1" y1="1399.1" y2="1399.1" stroke="#BEBEBE" stroke-width="3.25" stroke-dasharray="12.98 12.98"/>
<text x="1106.67" y="1446.8" font-size="29" text-anchor="middle" fill="#000">Glu</text>
<text x="1244.95" y="1446.8" font-size="29" text-anchor="middle" fill="#000">Ins</text>
<text x="1383.23" y="1446.8" font-size="29" text-anchor="middle" fill="#000">IR</text>
<g clip-path="url(#c10)">
<rect x="1043.34" y="1182.11" width="24.89" height="65.39" fill="#CBA349"/>
<rect x="1068.23" y="1197.85" width="24.89" height="49.65" fill="#FDE19C"/>
<rect x="1093.12" y="1206.89" width="24.89" height="40.61" fill="#F0BF53"/>
<rect x="1118.01" y="1213.6" width="24.89" height="33.9" fill="#B01E24"/>
<rect x="1142.9" y="1204.05" width="24.89" height="43.45" fill="#2F69B1"/>
<rect x="1181.62" y="1214.89" width="24.89" height="32.61" fill="#CBA349"/>
<rect x="1206.51" y="1232.71" width="24.89" height="14.79" fill="#FDE19C"/>
<rect x="1231.4" y="1215.15" width="24.89" height="32.35" fill="#F0BF53"/>
<rect x="1256.3" y="1204.05" width="24.89" height="43.45" fill="#B01E24"/>
<rect x="1281.19" y="1234" width="24.89" height="13.5" fill="#2F69B1"/>
<rect x="1319.9" y="1205.08" width="24.89" height="42.42" fill="#CBA349"/>
<rect x="1369.69" y="1219.02" width="24.89" height="28.48" fill="#F0BF53"/>
<rect x="1394.58" y="1196.3" width="24.89" height="51.2" fill="#B01E24"/>
<rect x="1419.47" y="1242" width="24.89" height="5.5" fill="#2F69B1"/>
<path d="M1055.79 1164.29V1199.66M1052.79 1164.29H1058.79M1052.79 1199.66H1058.79M1080.68 1181.59V1213.34M1077.68 1181.59H1083.68M1077.68 1213.34H1083.68M1105.57 1193.98V1219.54M1102.57 1193.98H1108.57M1102.57 1219.54H1108.57M1130.46 1196.82V1229.87M1127.46 1196.82H1133.46M1127.46 1229.87H1133.46M1155.35 1189.08V1219.02M1152.35 1189.08H1158.35M1152.35 1219.02H1158.35M1194.07 1191.4V1237.61M1191.07 1191.4H1197.07M1191.07 1237.61H1197.07M1218.96 1213.09V1252.58M1215.96 1213.09H1221.96M1215.96 1252.58H1221.96M1243.85 1196.56V1233.48M1240.85 1196.56H1246.85M1240.85 1233.48H1246.85M1268.74 1181.07V1226.25M1265.74 1181.07H1271.74M1265.74 1226.25H1271.74M1293.63 1212.57V1255.42M1290.63 1212.57H1296.63M1290.63 1255.42H1296.63M1332.35 1179.01V1231.16M1329.35 1179.01H1335.35M1329.35 1231.16H1335.35M1382.13 1187.27V1250.78M1379.13 1187.27H1385.13M1379.13 1250.78H1385.13M1407.02 1161.2V1231.16M1404.02 1161.2H1410.02M1404.02 1231.16H1410.02M1431.91 1199.14V1284.34M1428.91 1199.14H1434.91M1428.91 1284.34H1434.91" stroke="#000" stroke-width="3.3" fill="none"/>
</g>
<text x="1061.32" y="1158.29" font-size="29" text-anchor="middle">*</text>
<rect x="1489.9" y="980.8" width="442.9" height="87" fill="#D9D9D9"/>
<text x="1711.15" y="1034.8" font-size="29" text-anchor="middle" fill="#000">Insomnia</text>
<line x1="1489.9" x2="1932.4" y1="1095.9" y2="1095.9" stroke="#BEBEBE" stroke-width="3.25" stroke-dasharray="12.98 12.98"/>
<line x1="1489.9" x2="1932.4" y1="1171.7" y2="1171.7" stroke="#BEBEBE" stroke-width="3.25" stroke-dasharray="12.98 12.98"/>
<line x1="1489.9" x2="1932.4" y1="1323.3" y2="1323.3" stroke="#BEBEBE" stroke-width="3.25" stroke-dasharray="12.98 12.98"/>
<line x1="1489.9" x2="1932.4" y1="1399.1" y2="1399.1" stroke="#BEBEBE" stroke-width="3.25" stroke-dasharray="12.98 12.98"/>
<text x="1574.37" y="1446.8" font-size="29" text-anchor="middle" fill="#000">Glu</text>
<text x="1712.65" y="1446.8" font-size="29" text-anchor="middle" fill="#000">Ins</text>
<text x="1850.93" y="1446.8" font-size="29" text-anchor="middle" fill="#000">IR</text>
<g clip-path="url(#c11)">
<rect x="1510.64" y="1199.4" width="24.89" height="48.1" fill="#CBA349"/>
<rect x="1535.53" y="1174.36" width="24.89" height="73.14" fill="#FDE19C"/>
<rect x="1560.42" y="1186.49" width="24.89" height="61.01" fill="#F0BF53"/>
<rect x="1585.31" y="1192.17" width="24.89" height="55.33" fill="#B01E24"/>
<rect x="1610.2" y="1184.95" width="24.89" height="62.55" fill="#2F69B1"/>
<rect x="1648.92" y="1199.66" width="24.89" height="47.84" fill="#CBA349"/>
<rect x="1673.81" y="1180.04" width="24.89" height="67.46" fill="#FDE19C"/>
<rect x="1698.7" y="1213.34" width="24.89" height="34.16" fill="#F0BF53"/>
<rect x="1723.6" y="1212.83" width="24.89" height="34.67" fill="#B01E24"/>
<rect x="1748.49" y="1220.31" width="24.89" height="27.19" fill="#2F69B1"/>
<rect x="1787.2" y="1185.2" width="24.89" height="62.3" fill="#CBA349"/>
<rect x="1836.99" y="1238.13" width="24.89" height="9.37" fill="#F0BF53"/>
<rect x="1861.88" y="1210.76" width="24.89" height="36.74" fill="#B01E24"/>
<rect x="1886.77" y="1247.5" width="24.89" height="15.15" fill="#2F69B1"/>
<path d="M1523.09 1175.39V1223.15M1520.09 1175.39H1526.09M1520.09 1223.15H1526.09M1547.98 1153.19V1195.79M1544.98 1153.19H1550.98M1544.98 1195.79H1550.98M1572.87 1168.68V1204.31M1569.87 1168.68H1575.87M1569.87 1204.31H1575.87M1597.76 1169.46V1213.86M1594.76 1169.46H1600.76M1594.76 1213.86H1600.76M1622.65 1163.78V1205.6M1619.65 1163.78H1625.65M1619.65 1205.6H1625.65M1661.37 1169.46V1229.61M1658.37 1169.46H1664.37M1658.37 1229.61H1664.37M1686.26 1157.06V1202.76M1683.26 1157.06H1689.26M1683.26 1202.76H1689.26M1711.15 1192.17V1234.51M1708.15 1192.17H1714.15M1708.15 1234.51H1714.15M1736.04 1184.43V1240.71M1733.04 1184.43H1739.04M1733.04 1240.71H1739.04M1760.93 1195.01V1245.35M1757.93 1195.01H1763.93M1757.93 1245.35H1763.93M1799.65 1153.45V1216.44M1796.65 1153.45H1802.65M1796.65 1216.44H1802.65M1849.43 1202.5V1273.24M1846.43 1202.5H1852.43M1846.43 1273.24H1852.43M1874.32 1167.39V1253.87M1871.32 1167.39H1877.32M1871.32 1253.87H1877.32M1899.21 1218.25V1307.05M1896.21 1218.25H1902.21M1896.21 1307.05H1902.21" stroke="#000" stroke-width="3.3" fill="none"/>
</g>
<rect x="88" y="1471.2" width="442.5" height="87" fill="#D9D9D9"/>
<text x="309.25" y="1506.3" font-size="29" text-anchor="middle" fill="#000">Borderline</text>
<text x="309.25" y="1541.2" font-size="29" text-anchor="middle" fill="#000">personality disorder</text>
<line x1="88" x2="530.5" y1="1586.3" y2="1586.3" stroke="#BEBEBE" stroke-width="3.25" stroke-dasharray="12.98 12.98"/>
<text transform="translate(73 1597.3) scale(1 1.02)" font-size="29" text-anchor="end" fill="#000">0.50</text>
<line x1="88" x2="530.5" y1="1662.1" y2="1662.1" stroke="#BEBEBE" stroke-width="3.25" stroke-dasharray="12.98 12.98"/>
<text transform="translate(73 1673.1) scale(1 1.02)" font-size="29" text-anchor="end" fill="#000">0.25</text>
<line x1="88" x2="530.5" y1="1813.7" y2="1813.7" stroke="#BEBEBE" stroke-width="3.25" stroke-dasharray="12.98 12.98"/>
<text transform="translate(73 1824.7) scale(1 1.02)" font-size="29" text-anchor="end" fill="#000">–0.25</text>
<line x1="88" x2="530.5" y1="1889.5" y2="1889.5" stroke="#BEBEBE" stroke-width="3.25" stroke-dasharray="12.98 12.98"/>
<text transform="translate(73 1900.5) scale(1 1.02)" font-size="29" text-anchor="end" fill="#000">–0.50</text>
<text x="170.27" y="1937.2" font-size="29" text-anchor="middle" fill="#000">Glu</text>
<text x="308.55" y="1937.2" font-size="29" text-anchor="middle" fill="#000">Ins</text>
<text x="446.83" y="1937.2" font-size="29" text-anchor="middle" fill="#000">IR</text>
<g clip-path="url(#c12)">
<rect x="108.74" y="1695.34" width="24.89" height="42.56" fill="#CBA349"/>
<rect x="133.63" y="1657.39" width="24.89" height="80.51" fill="#FDE19C"/>
<rect x="158.52" y="1680.11" width="24.89" height="57.79" fill="#F0BF53"/>
<rect x="183.41" y="1685.27" width="24.89" height="52.63" fill="#B01E24"/>
<rect x="208.3" y="1682.95" width="24.89" height="54.95" fill="#2F69B1"/>
<rect x="247.02" y="1645.77" width="24.89" height="92.13" fill="#CBA349"/>
<rect x="271.91" y="1652.23" width="24.89" height="85.67" fill="#FDE19C"/>
<rect x="296.8" y="1663.07" width="24.89" height="74.83" fill="#F0BF53"/>
<rect x="321.7" y="1699.21" width="24.89" height="38.69" fill="#B01E24"/>
<rect x="346.59" y="1638.29" width="24.89" height="99.61" fill="#2F69B1"/>
<rect x="385.3" y="1640.35" width="24.89" height="97.55" fill="#CBA349"/>
<rect x="435.09" y="1620.99" width="24.89" height="116.91" fill="#F0BF53"/>
<rect x="459.98" y="1639.58" width="24.89" height="98.32" fill="#B01E24"/>
<rect x="484.87" y="1617.89" width="24.89" height="120.01" fill="#2F69B1"/>
<path d="M121.19 1655.33V1734.84M118.19 1655.33H124.19M118.19 1734.84H124.19M146.08 1618.41V1696.63M143.08 1618.41H149.08M143.08 1696.63H149.08M170.97 1652.49V1707.73M167.97 1652.49H173.97M167.97 1707.73H173.97M195.86 1651.97V1718.32M192.86 1651.97H198.86M192.86 1718.32H198.86M220.75 1647.06V1718.32M217.75 1647.06H223.75M217.75 1718.32H223.75M259.47 1596.21V1694.31M256.47 1596.21H262.47M256.47 1694.31H262.47M284.36 1606.28V1697.41M281.36 1606.28H287.36M281.36 1697.41H287.36M309.25 1622.54V1703.34M306.25 1622.54H312.25M306.25 1703.34H312.25M334.14 1650.94V1746.97M331.14 1650.94H337.14M331.14 1746.97H337.14M359.03 1588.98V1687.34M356.03 1588.98H362.03M356.03 1687.34H362.03M397.75 1587.95V1692.24M394.75 1587.95H400.75M394.75 1692.24H400.75M447.53 1480.55V1686.3M444.53 1480.55H450.53M444.53 1686.3H450.53M472.42 1563.16V1714.96M469.42 1563.16H475.42M469.42 1714.96H475.42M497.31 1480.55V1707.22M494.31 1480.55H500.31M494.31 1707.22H500.31" stroke="#000" stroke-width="3.3" fill="none"/>
</g>
<rect x="555.3" y="1471.2" width="442.5" height="87" fill="#D9D9D9"/>
<text x="776.55" y="1506.3" font-size="29" text-anchor="middle" fill="#000">Post-traumatic</text>
<text x="776.55" y="1541.2" font-size="29" text-anchor="middle" fill="#000">stress disorder</text>
<line x1="555.3" x2="997.8" y1="1586.3" y2="1586.3" stroke="#BEBEBE" stroke-width="3.25" stroke-dasharray="12.98 12.98"/>
<line x1="555.3" x2="997.8" y1="1662.1" y2="1662.1" stroke="#BEBEBE" stroke-width="3.25" stroke-dasharray="12.98 12.98"/>
<line x1="555.3" x2="997.8" y1="1813.7" y2="1813.7" stroke="#BEBEBE" stroke-width="3.25" stroke-dasharray="12.98 12.98"/>
<line x1="555.3" x2="997.8" y1="1889.5" y2="1889.5" stroke="#BEBEBE" stroke-width="3.25" stroke-dasharray="12.98 12.98"/>
<text x="636.67" y="1937.2" font-size="29" text-anchor="middle" fill="#000">Glu</text>
<text x="774.95" y="1937.2" font-size="29" text-anchor="middle" fill="#000">Ins</text>
<text x="913.23" y="1937.2" font-size="29" text-anchor="middle" fill="#000">IR</text>
<g clip-path="url(#c13)">
<rect x="576.04" y="1658.42" width="24.89" height="79.48" fill="#CBA349"/>
<rect x="600.93" y="1688.63" width="24.89" height="49.27" fill="#FDE19C"/>
<rect x="625.82" y="1668.49" width="24.89" height="69.41" fill="#F0BF53"/>
<rect x="650.71" y="1616.86" width="24.89" height="121.04" fill="#B01E24"/>
<rect x="675.6" y="1734.84" width="24.89" height="3.06" fill="#2F69B1"/>
<rect x="714.32" y="1730.97" width="24.89" height="6.93" fill="#CBA349"/>
<rect x="739.21" y="1609.12" width="24.89" height="128.78" fill="#FDE19C"/>
<rect x="764.1" y="1684.76" width="24.89" height="53.14" fill="#F0BF53"/>
<rect x="789" y="1650.94" width="24.89" height="86.96" fill="#B01E24"/>
<rect x="813.89" y="1730.71" width="24.89" height="7.19" fill="#2F69B1"/>
<rect x="852.6" y="1737.9" width="24.89" height="2.1" fill="#CBA349"/>
<rect x="902.39" y="1591.04" width="24.89" height="146.86" fill="#F0BF53"/>
<rect x="927.28" y="1641.9" width="24.89" height="96" fill="#B01E24"/>
<rect x="952.17" y="1480.55" width="24.89" height="257.35" fill="#2F69B1"/>
<path d="M588.49 1609.12V1708.25M585.49 1609.12H591.49M585.49 1708.25H591.49M613.38 1643.19V1733.55M610.38 1643.19H616.38M610.38 1733.55H616.38M638.27 1633.64V1703.34M635.27 1633.64H641.27M635.27 1703.34H641.27M663.16 1567.81V1665.91M660.16 1567.81H666.16M660.16 1665.91H666.16M688.05 1694.82V1774.85M685.05 1694.82H691.05M685.05 1774.85H691.05M726.77 1668.23V1794.22M723.77 1668.23H729.77M723.77 1794.22H729.77M751.66 1480.55V1668.49M748.66 1480.55H754.66M748.66 1668.49H754.66M776.55 1633.64V1735.61M773.55 1633.64H779.55M773.55 1735.61H779.55M801.44 1583.04V1718.83M798.44 1583.04H804.44M798.44 1718.83H804.44M826.33 1677.27V1784.15M823.33 1677.27H829.33M823.33 1784.15H829.33M865.05 1674.17V1806.35M862.05 1674.17H868.05M862.05 1806.35H868.05M914.83 1480.55V1676.75M911.83 1480.55H917.83M911.83 1676.75H917.83M939.72 1480.55V1737.42M936.72 1480.55H942.72M936.72 1737.42H942.72M964.61 1454.74V1651.45M961.61 1454.74H967.61M961.61 1651.45H967.61" stroke="#000" stroke-width="3.3" fill="none"/>
</g>
<rect x="1022.6" y="1471.2" width="442.5" height="87" fill="#D9D9D9"/>
<text x="1243.85" y="1506.3" font-size="29" text-anchor="middle" fill="#000">Cannabis</text>
<text x="1243.85" y="1541.2" font-size="29" text-anchor="middle" fill="#000">use</text>
<line x1="1022.6" x2="1465.1" y1="1586.3" y2="1586.3" stroke="#BEBEBE" stroke-width="3.25" stroke-dasharray="12.98 12.98"/>
<line x1="1022.6" x2="1465.1" y1="1662.1" y2="1662.1" stroke="#BEBEBE" stroke-width="3.25" stroke-dasharray="12.98 12.98"/>
<line x1="1022.6" x2="1465.1" y1="1813.7" y2="1813.7" stroke="#BEBEBE" stroke-width="3.25" stroke-dasharray="12.98 12.98"/>
<line x1="1022.6" x2="1465.1" y1="1889.5" y2="1889.5" stroke="#BEBEBE" stroke-width="3.25" stroke-dasharray="12.98 12.98"/>
<text x="1106.67" y="1937.2" font-size="29" text-anchor="middle" fill="#000">Glu</text>
<text x="1244.95" y="1937.2" font-size="29" text-anchor="middle" fill="#000">Ins</text>
<text x="1383.23" y="1937.2" font-size="29" text-anchor="middle" fill="#000">IR</text>
<g clip-path="url(#c14)">
<rect x="1043.34" y="1730.45" width="24.89" height="7.45" fill="#CBA349"/>
<rect x="1068.23" y="1737.9" width="24.89" height="18.88" fill="#FDE19C"/>
<rect x="1093.12" y="1737.9" width="24.89" height="46.25" fill="#F0BF53"/>
<rect x="1118.01" y="1737.9" width="24.89" height="60.96" fill="#B01E24"/>
<rect x="1142.9" y="1737.9" width="24.89" height="17.85" fill="#2F69B1"/>
<rect x="1181.62" y="1737.9" width="24.89" height="55.54" fill="#CBA349"/>
<rect x="1206.51" y="1737.9" width="24.89" height="58.12" fill="#FDE19C"/>
<rect x="1231.4" y="1737.9" width="24.89" height="63.29" fill="#F0BF53"/>
<rect x="1256.3" y="1737.9" width="24.89" height="83.42" fill="#B01E24"/>
<rect x="1281.19" y="1737.9" width="24.89" height="31.79" fill="#2F69B1"/>
<rect x="1319.9" y="1737.9" width="24.89" height="58.38" fill="#CBA349"/>
<rect x="1369.69" y="1737.9" width="24.89" height="53.73" fill="#F0BF53"/>
<rect x="1394.58" y="1737.9" width="24.89" height="58.9" fill="#B01E24"/>
<rect x="1419.47" y="1737.9" width="24.89" height="43.67" fill="#2F69B1"/>
<path d="M1055.79 1699.73V1761.17M1052.79 1699.73H1058.79M1052.79 1761.17H1058.79M1080.68 1729.93V1783.63M1077.68 1729.93H1083.68M1077.68 1783.63H1083.68M1105.57 1762.2V1806.35M1102.57 1762.2H1108.57M1102.57 1806.35H1108.57M1130.46 1772.27V1825.97M1127.46 1772.27H1133.46M1127.46 1825.97H1133.46M1155.35 1729.68V1781.57M1152.35 1729.68H1158.35M1152.35 1781.57H1158.35M1194.07 1751.36V1835.52M1191.07 1751.36H1197.07M1191.07 1835.52H1197.07M1218.96 1762.72V1829.58M1215.96 1762.72H1221.96M1215.96 1829.58H1221.96M1243.85 1771.5V1831.13M1240.85 1771.5H1246.85M1240.85 1831.13H1246.85M1268.74 1782.6V1859.27M1265.74 1782.6H1271.74M1265.74 1859.27H1271.74M1293.63 1731.48V1807.64M1290.63 1731.48H1296.63M1290.63 1807.64H1296.63M1332.35 1752.91V1839.39M1329.35 1752.91H1335.35M1329.35 1839.39H1335.35M1382.13 1747.49V1836.29M1379.13 1747.49H1385.13M1379.13 1836.29H1385.13M1407.02 1743.36V1850.75M1404.02 1743.36H1410.02M1404.02 1850.75H1410.02M1431.91 1725.29V1838.1M1428.91 1725.29H1434.91M1428.91 1838.1H1434.91" stroke="#000" stroke-width="3.3" fill="none"/>
</g>
<rect x="1489.9" y="1471.2" width="442.9" height="87" fill="#D9D9D9"/>
<text x="1711.15" y="1524" font-size="29" text-anchor="middle" fill="#000">Anxiety</text>
<line x1="1489.9" x2="1932.4" y1="1586.3" y2="1586.3" stroke="#BEBEBE" stroke-width="3.25" stroke-dasharray="12.98 12.98"/>
<line x1="1489.9" x2="1932.4" y1="1662.1" y2="1662.1" stroke="#BEBEBE" stroke-width="3.25" stroke-dasharray="12.98 12.98"/>
<line x1="1489.9" x2="1932.4" y1="1813.7" y2="1813.7" stroke="#BEBEBE" stroke-width="3.25" stroke-dasharray="12.98 12.98"/>
<line x1="1489.9" x2="1932.4" y1="1889.5" y2="1889.5" stroke="#BEBEBE" stroke-width="3.25" stroke-dasharray="12.98 12.98"/>
<text x="1574.37" y="1937.2" font-size="29" text-anchor="middle" fill="#000">Glu</text>
<text x="1712.65" y="1937.2" font-size="29" text-anchor="middle" fill="#000">Ins</text>
<text x="1850.93" y="1937.2" font-size="29" text-anchor="middle" fill="#000">IR</text>
<g clip-path="url(#c15)">
<rect x="1510.64" y="1737.9" width="24.89" height="11.91" fill="#CBA349"/>
<rect x="1535.53" y="1734.32" width="24.89" height="3.58" fill="#FDE19C"/>
<rect x="1560.42" y="1719.61" width="24.89" height="18.29" fill="#F0BF53"/>
<rect x="1585.31" y="1730.45" width="24.89" height="7.45" fill="#B01E24"/>
<rect x="1610.2" y="1710.31" width="24.89" height="27.59" fill="#2F69B1"/>
<rect x="1648.92" y="1734.84" width="24.89" height="3.06" fill="#CBA349"/>
<rect x="1673.81" y="1714.96" width="24.89" height="22.94" fill="#FDE19C"/>
<rect x="1698.7" y="1695.08" width="24.89" height="42.82" fill="#F0BF53"/>
<rect x="1723.6" y="1686.82" width="24.89" height="51.08" fill="#B01E24"/>
<rect x="1748.49" y="1712.12" width="24.89" height="25.78" fill="#2F69B1"/>
<rect x="1787.2" y="1731.22" width="24.89" height="6.68" fill="#CBA349"/>
<rect x="1836.99" y="1724.77" width="24.89" height="13.13" fill="#F0BF53"/>
<rect x="1861.88" y="1730.19" width="24.89" height="7.71" fill="#B01E24"/>
<rect x="1886.77" y="1722.45" width="24.89" height="15.45" fill="#2F69B1"/>
<path d="M1523.09 1729.68V1770.21M1520.09 1729.68H1526.09M1520.09 1770.21H1526.09M1547.98 1717.8V1750.33M1544.98 1717.8H1550.98M1544.98 1750.33H1550.98M1572.87 1706.44V1732.77M1569.87 1706.44H1575.87M1569.87 1732.77H1575.87M1597.76 1714.19V1746.46M1594.76 1714.19H1600.76M1594.76 1746.46H1600.76M1622.65 1694.82V1725.29M1619.65 1694.82H1625.65M1619.65 1725.29H1625.65M1661.37 1710.57V1758.85M1658.37 1710.57H1664.37M1658.37 1758.85H1664.37M1686.26 1694.82V1734.84M1683.26 1694.82H1689.26M1683.26 1734.84H1689.26M1711.15 1678.3V1711.86M1708.15 1678.3H1714.15M1708.15 1711.86H1714.15M1736.04 1664.1V1709.02M1733.04 1664.1H1739.04M1733.04 1709.02H1739.04M1760.93 1692.24V1732.26M1757.93 1692.24H1763.93M1757.93 1732.26H1763.93M1799.65 1703.6V1758.59M1796.65 1703.6H1802.65M1796.65 1758.59H1802.65M1849.43 1701.28V1748M1846.43 1701.28H1852.43M1846.43 1748H1852.43M1874.32 1697.41V1762.72M1871.32 1697.41H1877.32M1871.32 1762.72H1877.32M1899.21 1690.69V1754.2M1896.21 1690.69H1902.21M1896.21 1754.2H1902.21" stroke="#000" stroke-width="3.3" fill="none"/>
</g>
<rect x="88" y="1961.6" width="442.5" height="87" fill="#D9D9D9"/>
<text x="309.25" y="1996.7" font-size="29" text-anchor="middle" fill="#000">Major depressive</text>
<text x="309.25" y="2031.6" font-size="29" text-anchor="middle" fill="#000">disorder (MDD)</text>
<line x1="88" x2="530.5" y1="2076.7" y2="2076.7" stroke="#BEBEBE" stroke-width="3.25" stroke-dasharray="12.98 12.98"/>
<text transform="translate(73 2087.7) scale(1 1.02)" font-size="29" text-anchor="end" fill="#000">0.50</text>
<line x1="88" x2="530.5" y1="2152.5" y2="2152.5" stroke="#BEBEBE" stroke-width="3.25" stroke-dasharray="12.98 12.98"/>
<text transform="translate(73 2163.5) scale(1 1.02)" font-size="29" text-anchor="end" fill="#000">0.25</text>
<line x1="88" x2="530.5" y1="2304.1" y2="2304.1" stroke="#BEBEBE" stroke-width="3.25" stroke-dasharray="12.98 12.98"/>
<text transform="translate(73 2315.1) scale(1 1.02)" font-size="29" text-anchor="end" fill="#000">–0.25</text>
<line x1="88" x2="530.5" y1="2379.9" y2="2379.9" stroke="#BEBEBE" stroke-width="3.25" stroke-dasharray="12.98 12.98"/>
<text transform="translate(73 2390.9) scale(1 1.02)" font-size="29" text-anchor="end" fill="#000">–0.50</text>
<text x="170.27" y="2427.6" font-size="29" text-anchor="middle" fill="#000">Glu</text>
<text x="308.55" y="2427.6" font-size="29" text-anchor="middle" fill="#000">Ins</text>
<text x="446.83" y="2427.6" font-size="29" text-anchor="middle" fill="#000">IR</text>
<g clip-path="url(#c16)">
<rect x="108.74" y="2228.3" width="24.89" height="13.32" fill="#CBA349"/>
<rect x="133.63" y="2228.3" width="24.89" height="9.45" fill="#FDE19C"/>
<rect x="158.52" y="2209.87" width="24.89" height="18.43" fill="#F0BF53"/>
<rect x="183.41" y="2218.38" width="24.89" height="9.92" fill="#B01E24"/>
<rect x="208.3" y="2203.67" width="24.89" height="24.63" fill="#2F69B1"/>
<rect x="247.02" y="2200.06" width="24.89" height="28.24" fill="#CBA349"/>
<rect x="271.91" y="2220.97" width="24.89" height="7.33" fill="#FDE19C"/>
<rect x="296.8" y="2228.3" width="24.89" height="18.48" fill="#F0BF53"/>
<rect x="321.7" y="2228.3" width="24.89" height="39.39" fill="#B01E24"/>
<rect x="346.59" y="2224.32" width="24.89" height="3.98" fill="#2F69B1"/>
<rect x="385.3" y="2196.96" width="24.89" height="31.34" fill="#CBA349"/>
<rect x="435.09" y="2225.1" width="24.89" height="3.2" fill="#F0BF53"/>
<rect x="459.98" y="2217.87" width="24.89" height="10.43" fill="#B01E24"/>
<rect x="484.87" y="2228.3" width="24.89" height="6.86" fill="#2F69B1"/>
<path d="M121.19 2217.87V2265.63M118.19 2217.87H124.19M118.19 2265.63H124.19M146.08 2217.35V2258.4M143.08 2217.35H149.08M143.08 2258.4H149.08M170.97 2193.86V2225.35M167.97 2193.86H173.97M167.97 2225.35H173.97M195.86 2197.73V2239.04M192.86 2197.73H198.86M192.86 2239.04H198.86M220.75 2184.05V2223.03M217.75 2184.05H223.75M217.75 2223.03H223.75M259.47 2163.4V2236.46M256.47 2163.4H262.47M256.47 2236.46H262.47M284.36 2191.79V2249.88M281.36 2191.79H287.36M281.36 2249.88H287.36M309.25 2223.03V2270.53M306.25 2223.03H312.25M306.25 2270.53H312.25M334.14 2235.16V2300.22M331.14 2235.16H337.14M331.14 2300.22H337.14M359.03 2195.15V2252.46M356.03 2195.15H362.03M356.03 2252.46H362.03M397.75 2159.52V2234.65M394.75 2159.52H400.75M394.75 2234.65H400.75M447.53 2186.63V2262.53M444.53 2186.63H450.53M444.53 2262.53H450.53M472.42 2172.95V2262.27M469.42 2172.95H475.42M469.42 2262.27H475.42M497.31 2182.76V2287.31M494.31 2182.76H500.31M494.31 2287.31H500.31" stroke="#000" stroke-width="3.3" fill="none"/>
</g>
<text x="1591" y="2062.8" font-size="29" fill="#000">Sex</text>
<rect x="1593.2" y="2086.4" width="48.6" height="48.5" fill="#CBA349"/>
<text x="1658" y="2119.1" font-size="25" fill="#000">Age/sex-adj</text>
<rect x="1593.2" y="2138.9" width="48.6" height="48.5" fill="#FDE19C"/>
<text x="1658" y="2171.6" font-size="25" fill="#000">BMI-adj</text>
<rect x="1593.2" y="2191.4" width="48.6" height="48.5" fill="#F0BF53"/>
<text x="1658" y="2224.1" font-size="25" fill="#000">Both</text>
<rect x="1593.2" y="2243.9" width="48.6" height="48.5" fill="#B01E24"/>
<text x="1658" y="2276.6" font-size="25" fill="#000">Female</text>
<rect x="1593.2" y="2296.4" width="48.6" height="48.5" fill="#2F69B1"/>
<text x="1658" y="2329.1" font-size="25" fill="#000">Male</text>
</svg>
</body></html>
